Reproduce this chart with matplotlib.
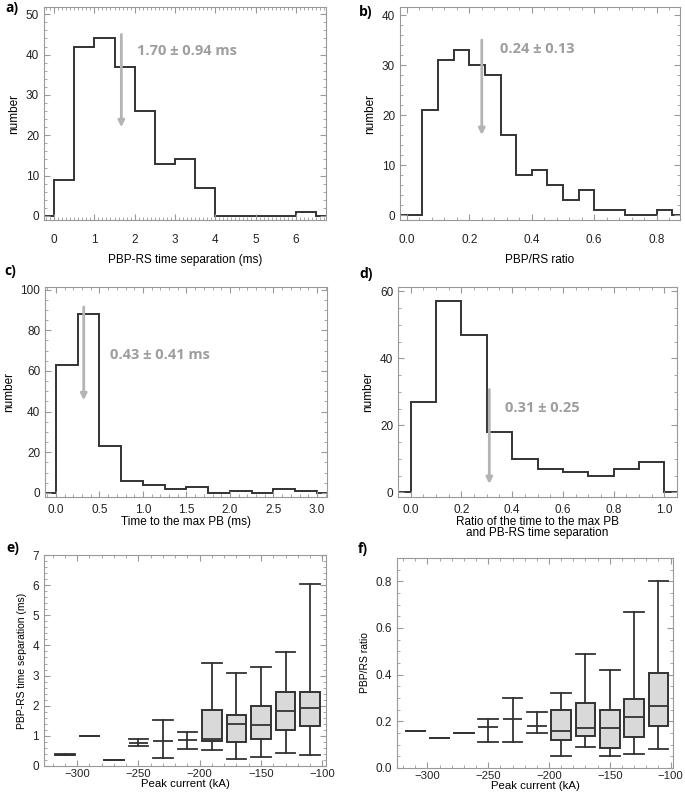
import numpy as np
import matplotlib
matplotlib.use('Agg')
import matplotlib.pyplot as plt
from matplotlib.ticker import MultipleLocator

plt.rcParams['font.family'] = ['Liberation Sans', 'DejaVu Sans']

W, H = 685, 797

# ---- histogram data ----
a_start, a_width = 0.0, 0.5
a_counts = [9, 42, 44, 37, 26, 13, 14, 7, 0, 0, 0, 0, 1]
b_start, b_width = 0.05, 0.05
b_counts = [21, 31, 33, 30, 28, 16, 8, 9, 6, 3, 5, 1, 1, 0, 0, 1]
c_start, c_width = 0.0, 0.25
c_counts = [63, 88, 23, 6, 4, 2, 3, 0, 1, 0, 2, 1]
d_start, d_width = 0.0, 0.1
d_counts = [27, 57, 47, 18, 10, 7, 6, 5, 7, 9]

a_mean, a_text = 1.70, '1.70 ± 0.94 ms'
b_mean, b_text = 0.24, '0.24 ± 0.13'
c_mean, c_text = 0.32, '0.43 ± 0.41 ms'
d_mean, d_text = 0.31, '0.31 ± 0.25'

# ---- box plot data (peak current bins, kA) ----
current = [-310, -290, -270, -250, -230, -210, -190, -170, -150, -130, -110]
has_box = [False, False, False, False, False, False, True, True, True, True, True]
e_lo = [0.36, 1.00, 0.20, 0.65, 0.28, 0.58, 0.53, 0.22, 0.30, 0.42, 0.38]
e_q1 = [0.38, 1.00, 0.20, 0.75, 0.83, 0.87, 0.83, 0.79, 0.88, 1.18, 1.32]
e_med = [0.38, 1.00, 0.20, 0.75, 0.83, 0.87, 0.90, 1.40, 1.36, 1.83, 1.93]
e_q3 = [0.38, 1.00, 0.20, 0.75, 0.83, 0.87, 1.87, 1.68, 1.99, 2.44, 2.44]
e_hi = [0.40, 1.00, 0.20, 0.91, 1.53, 1.13, 3.43, 3.10, 3.30, 3.77, 6.03]

f_lo = [0.16, 0.13, 0.15, 0.11, 0.11, 0.15, 0.05, 0.09, 0.05, 0.06, 0.08]
f_q1 = [0.16, 0.13, 0.15, 0.177, 0.21, 0.18, 0.12, 0.138, 0.085, 0.135, 0.178]
f_med = [0.16, 0.13, 0.15, 0.177, 0.21, 0.18, 0.16, 0.17, 0.17, 0.22, 0.265]
f_q3 = [0.16, 0.13, 0.15, 0.177, 0.21, 0.18, 0.25, 0.278, 0.25, 0.295, 0.407]
f_hi = [0.16, 0.13, 0.15, 0.21, 0.30, 0.24, 0.32, 0.49, 0.42, 0.67, 0.80]

line_col = '#333333'
spine_col = '#999999'
note_col = '#9e9e9e'
arrow_col = '#b4b4b4'

fig = plt.figure(figsize=(W / 100, H / 100), dpi=100)


def make_ax(l, t, r, b):
    ax = fig.add_axes([l / W, 1 - b / H, (r - l) / W, (b - t) / H])
    for s in ax.spines.values():
        s.set_color(spine_col)
        s.set_linewidth(0.8)
    ax.tick_params(which='both', direction='in', top=True, right=True,
                   color=spine_col, labelsize=8.5, labelcolor='#222222')
    ax.tick_params(which='major', length=4)
    ax.tick_params(which='minor', length=2)
    return ax


def hist_panel(ax, start, width, counts, xlim):
    n = len(counts)
    edges = [xlim[0]] + [start + width * i for i in range(n + 1)] + [xlim[1]]
    vals = [0] + list(counts) + [0]
    ax.stairs(vals, edges, baseline=None, color=line_col, lw=1.4)
    ax.set_xlim(*xlim)
    ax.set_ylabel('number', fontsize=8.5)


def arrow(ax, x, ytop, ybot, text, tx, ty):
    ax.annotate('', xy=(x, ybot), xytext=(x, ytop),
                arrowprops=dict(arrowstyle='-|>', color=arrow_col, lw=2,
                                mutation_scale=9, shrinkA=0, shrinkB=0))
    ax.text(tx, ty, text, color=note_col, fontsize=10.5, fontweight='bold',
            family=['Open Sans', 'DejaVu Sans'], va='center', ha='left')


def label(x, y, s):
    fig.text(x / W, 1 - y / H, s, fontsize=10, fontweight='bold',
             family=['Open Sans', 'DejaVu Sans'], va='center', ha='left')


# a)
ax = make_ax(44, 7, 326, 220)
hist_panel(ax, a_start, a_width, a_counts, (-0.25, 6.75))
ax.set_ylim(-1, 51.8)
ax.xaxis.set_major_locator(MultipleLocator(1))
ax.xaxis.set_minor_locator(MultipleLocator(0.1))
ax.yaxis.set_major_locator(MultipleLocator(10))
ax.yaxis.set_minor_locator(MultipleLocator(2))
ax.tick_params(axis='x', pad=10)
ax.set_xlabel('PBP-RS time separation (ms)', fontsize=8.5, labelpad=6)
arrow(ax, a_mean - 0.03, 45, 22, a_text, 2.05, 41)
label(5, 8, 'a)')

# b)
ax = make_ax(400, 7, 680, 220)
hist_panel(ax, b_start, b_width, b_counts, (-0.022, 0.875))
ax.set_ylim(-1, 41.6)
ax.xaxis.set_major_locator(MultipleLocator(0.2))
ax.xaxis.set_minor_locator(MultipleLocator(0.04))
ax.xaxis.set_major_formatter(lambda v, p: f'{v:.1f}')
ax.yaxis.set_major_locator(MultipleLocator(10))
ax.yaxis.set_minor_locator(MultipleLocator(2))
ax.tick_params(axis='x', pad=10)
ax.set_xlabel('PBP/RS ratio', fontsize=8.5, labelpad=6)
arrow(ax, b_mean, 35, 16, b_text, 0.297, 33.2)
label(359, 12, 'b)')

# c)
ax = make_ax(45, 287, 327, 497)
hist_panel(ax, c_start, c_width, c_counts, (-0.125, 3.115))
ax.set_ylim(-2, 101.3)
ax.xaxis.set_major_locator(MultipleLocator(0.5))
ax.xaxis.set_minor_locator(MultipleLocator(0.1))
ax.xaxis.set_major_formatter(lambda v, p: f'{v:.1f}')
ax.yaxis.set_major_locator(MultipleLocator(20))
ax.yaxis.set_minor_locator(MultipleLocator(5))
ax.tick_params(axis='x', pad=5)
ax.set_xlabel('Time to the max PB (ms)', fontsize=8.5, labelpad=0)
arrow(ax, c_mean, 91.5, 45.6, c_text, 0.62, 68)
label(4, 271, 'c)')

# d)
ax = make_ax(398, 287, 677, 497)
hist_panel(ax, d_start, d_width, d_counts, (-0.05, 1.05))
ax.set_ylim(-1.4, 61.3)
ax.xaxis.set_major_locator(MultipleLocator(0.2))
ax.xaxis.set_minor_locator(MultipleLocator(0.05))
ax.xaxis.set_major_formatter(lambda v, p: f'{v:.1f}')
ax.yaxis.set_major_locator(MultipleLocator(20))
ax.yaxis.set_minor_locator(MultipleLocator(5))
ax.tick_params(axis='x', pad=5)
ax.set_xlabel('Ratio of the time to the max PB\nand PB-RS time separation',
              fontsize=8.5, labelpad=0, linespacing=0.95)
arrow(ax, d_mean, 30.7, 2.5, d_text, 0.372, 25.3)
label(359, 274, 'd)')


def box_panel(ax, lo, q1, med, q3, hi, xlim, ylim):
    small, boxed = [], []
    for i, x in enumerate(current):
        st = dict(med=med[i], q1=q1[i], q3=q3[i], whislo=lo[i], whishi=hi[i],
                  fliers=[])
        (boxed if has_box[i] else small).append((x, st))
    lp = dict(color=line_col, lw=1.3)
    ax.bxp([s for _, s in small], positions=[x for x, _ in small], widths=16,
           capwidths=16, showbox=False, showfliers=False, manage_ticks=False,
           whiskerprops=lp, capprops=lp, medianprops=lp)
    ax.bxp([s for _, s in boxed], positions=[x for x, _ in boxed], widths=16,
           capwidths=16, patch_artist=True, showfliers=False, manage_ticks=False,
           boxprops=dict(facecolor='#d9d9d9', edgecolor=line_col, lw=1.4),
           whiskerprops=lp, capprops=lp, medianprops=lp)
    ax.set_xlim(*xlim)
    ax.set_ylim(*ylim)
    ax.xaxis.set_major_locator(MultipleLocator(50))
    ax.xaxis.set_minor_locator(MultipleLocator(10))
    ax.tick_params(axis='x', pad=2, labelsize=8.2)
    ax.set_xlabel('Peak current (kA)', fontsize=8.2, labelpad=0.5)


# e)
ax = make_ax(44, 555, 326, 766)
box_panel(ax, e_lo, e_q1, e_med, e_q3, e_hi, (-327, -97), (0, 7))
ax.yaxis.set_major_locator(MultipleLocator(1))
ax.yaxis.set_minor_locator(MultipleLocator(0.2))
ax.set_ylabel('PBP-RS time separation (ms)', fontsize=7.5)
label(6, 548, 'e)')

# f)
ax = make_ax(397, 558, 673, 768)
box_panel(ax, f_lo, f_q1, f_med, f_q3, f_hi, (-325, -98), (0, 0.9))
ax.yaxis.set_major_locator(MultipleLocator(0.2))
ax.yaxis.set_minor_locator(MultipleLocator(0.05))
ax.yaxis.set_major_formatter(lambda v, p: f'{v:.1f}')
ax.set_ylabel('PBP/RS ratio', fontsize=7.5)
label(358, 549, 'f)')

fig.savefig('out.png', dpi=100)
